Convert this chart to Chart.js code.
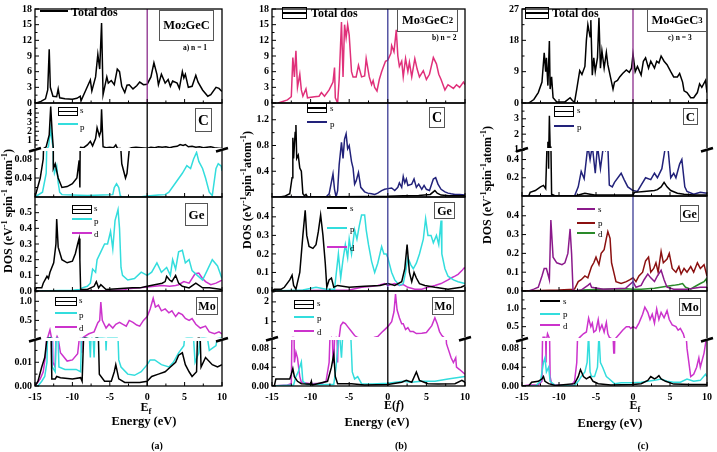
<!DOCTYPE html>
<html>
<head>
<meta charset="utf-8">
<script src="https://cdn.jsdelivr.net/npm/chart.js@4.4.1/dist/chart.umd.min.js"></script>
<style>
html, body { margin: 0; padding: 0; background: #fff; }
#wrap { position: relative; width: 717px; height: 452px; overflow: hidden; font-family: "Liberation Serif", "DejaVu Serif", serif; color: #000; }
canvas { position: absolute; top: 0; }
.t { position: absolute; white-space: nowrap; line-height: 1; font-weight: bold; }
.c { transform: translate(-50%, -50%); }
.v { transform: translate(-50%, -50%) rotate(-90deg); }
.lb { position: absolute; white-space: nowrap; line-height: 1; font-size: 9px; transform: translateY(-50%); }
.ln { position: absolute; height: 2px; margin-top: -1px; background: #000; }
.bx { position: absolute; border: 1.5px solid #000; box-sizing: border-box; }
.bx:after { content: ""; position: absolute; left: 0; right: 0; top: 50%; height: 1.5px; margin-top: -0.75px; background: #000; }
.fr { position: absolute; border: 1px solid #555; box-sizing: border-box; display: flex; align-items: center; justify-content: center; font-weight: bold; line-height: 1; }
sub, sup { font-size: 70%; line-height: 0; }
</style>
</head>
<body>
<div id="wrap">
<canvas id="ca" width="232" height="452" style="left:0"></canvas>
<canvas id="cb" width="239" height="452" style="left:236px"></canvas>
<canvas id="cc" width="241" height="452" style="left:476px"></canvas>

<!-- (a) -->
<div class="ln" style="left:40px;top:11px;width:28px"></div>
<div class="t" style="left:71px;top:6px;font-size:12px">Total dos</div>
<div class="fr" style="left:159px;top:10px;width:55px;height:31px;font-size:12.5px">Mo<sub>2</sub>GeC</div>
<div class="t" style="left:183px;top:44px;font-size:7.5px">a) n = 1</div>
<div class="fr" style="left:195px;top:108px;width:17px;height:24px;font-size:15px">C</div>
<div class="bx" style="left:58px;top:107px;width:20px;height:9px"></div><div class="lb" style="left:80px;top:110px">s</div>
<div class="ln" style="left:58px;top:124px;width:20px;background:#33dddd"></div><div class="lb" style="left:80px;top:127px">p</div>
<div class="fr" style="left:185px;top:203px;width:23px;height:23px;font-size:13px">Ge</div>
<div class="bx" style="left:72px;top:205px;width:20px;height:9px"></div><div class="lb" style="left:94px;top:208px">s</div>
<div class="ln" style="left:72px;top:219px;width:20px;background:#33dddd"></div><div class="lb" style="left:94px;top:221px">p</div>
<div class="ln" style="left:72px;top:233px;width:20px;background:#cc33cc"></div><div class="lb" style="left:94px;top:234px">d</div>
<div class="fr" style="left:196px;top:297px;width:22px;height:18px;font-size:12px">Mo</div>
<div class="bx" style="left:55px;top:297px;width:22px;height:9px"></div><div class="lb" style="left:79px;top:300px">s</div>
<div class="ln" style="left:55px;top:313px;width:22px;background:#33dddd"></div><div class="lb" style="left:79px;top:315px">p</div>
<div class="ln" style="left:55px;top:327px;width:22px;background:#cc33cc"></div><div class="lb" style="left:79px;top:328px">d</div>
<div class="t c" style="left:146px;top:407px;font-size:12px">E<sub>f</sub></div>
<div class="t c" style="left:144px;top:421px;font-size:12.5px">Energy (eV)</div>
<div class="t c" style="left:157px;top:446px;font-size:10px">(a)</div>
<div class="t v" style="left:8px;top:211px;font-size:12px">DOS (eV<sup>-1</sup> spin<sup>-1</sup> atom<sup>-1</sup>)</div>

<!-- (b) -->
<div class="bx" style="left:282px;top:7px;width:25px;height:12px"></div>
<div class="t" style="left:311px;top:7px;font-size:12px">Total dos</div>
<div class="fr" style="left:397px;top:8px;width:61px;height:24px;font-size:12.5px">Mo<sub>3</sub>GeC<sub>2</sub></div>
<div class="t" style="left:432px;top:34px;font-size:7.5px">b) n = 2</div>
<div class="fr" style="left:429px;top:107px;width:16px;height:21px;font-size:14px">C</div>
<div class="bx" style="left:307px;top:103px;width:20px;height:10px"></div><div class="lb" style="left:330px;top:108px">s</div>
<div class="ln" style="left:307px;top:122px;width:20px;background:#22227a"></div><div class="lb" style="left:330px;top:124px">p</div>
<div class="fr" style="left:434px;top:202px;width:21px;height:17px;font-size:12px">Ge</div>
<div class="ln" style="left:327px;top:208px;width:20px"></div><div class="lb" style="left:350px;top:208px">s</div>
<div class="ln" style="left:327px;top:228px;width:20px;background:#33dddd"></div><div class="lb" style="left:350px;top:229px">p</div>
<div class="ln" style="left:327px;top:247px;width:20px;background:#cc33cc"></div><div class="lb" style="left:350px;top:248px">d</div>
<div class="fr" style="left:432px;top:297px;width:22px;height:18px;font-size:12px">Mo</div>
<div class="bx" style="left:294px;top:300px;width:20px;height:9px"></div><div class="lb" style="left:317px;top:303px">s</div>
<div class="ln" style="left:294px;top:317px;width:20px;background:#33dddd"></div><div class="lb" style="left:317px;top:318px">p</div>
<div class="ln" style="left:294px;top:331px;width:20px;background:#cc33cc"></div><div class="lb" style="left:317px;top:332px">d</div>
<div class="t c" style="left:394px;top:405px;font-size:12px">E(<i>f</i>)</div>
<div class="t c" style="left:377px;top:422px;font-size:12.5px">Energy (eV)</div>
<div class="t c" style="left:401px;top:446px;font-size:10px">(b)</div>
<div class="t v" style="left:247px;top:190px;font-size:12px">DOS (eV<sup>-1</sup>spin<sup>-1</sup>atom<sup>-1</sup>)</div>

<!-- (c) -->
<div class="bx" style="left:525px;top:7px;width:24px;height:12px"></div>
<div class="t" style="left:552px;top:7px;font-size:12px">Total dos</div>
<div class="fr" style="left:647px;top:8px;width:60px;height:24px;font-size:12.5px">Mo<sub>4</sub>GeC<sub>3</sub></div>
<div class="t" style="left:668px;top:34px;font-size:7.5px">c) n = 3</div>
<div class="fr" style="left:683px;top:108px;width:15px;height:17px;font-size:13px">C</div>
<div class="bx" style="left:554px;top:106px;width:20px;height:11px"></div><div class="lb" style="left:577px;top:110px">s</div>
<div class="ln" style="left:554px;top:126px;width:20px;background:#22227a"></div><div class="lb" style="left:577px;top:127px">p</div>
<div class="fr" style="left:680px;top:205px;width:19px;height:17px;font-size:12px">Ge</div>
<div class="ln" style="left:577px;top:209px;width:18px;background:#8b1a8b"></div><div class="lb" style="left:598px;top:209px">s</div>
<div class="ln" style="left:577px;top:223px;width:18px;background:#8b1010"></div><div class="lb" style="left:598px;top:223px">p</div>
<div class="ln" style="left:577px;top:233px;width:18px;background:#2a8a2a"></div><div class="lb" style="left:598px;top:234px">d</div>
<div class="fr" style="left:679px;top:298px;width:22px;height:18px;font-size:12px">Mo</div>
<div class="ln" style="left:540px;top:301px;width:20px"></div><div class="lb" style="left:563px;top:301px">s</div>
<div class="ln" style="left:540px;top:314px;width:20px;background:#33dddd"></div><div class="lb" style="left:563px;top:314px">p</div>
<div class="ln" style="left:540px;top:325px;width:20px;background:#cc33cc"></div><div class="lb" style="left:563px;top:326px">d</div>
<div class="t c" style="left:635px;top:405px;font-size:12px">E<sub>f</sub></div>
<div class="t c" style="left:610px;top:423px;font-size:12.5px">Energy (eV)</div>
<div class="t c" style="left:643px;top:446px;font-size:10px">(c)</div>
<div class="t v" style="left:487px;top:185px;font-size:12px">DOS (eV<sup>-1</sup>spin<sup>-1</sup>atom<sup>-1</sup>)</div>
</div>

<script>
// energy axis
const E_TICKS = [-15, -10, -5, 0, 5, 10];
const E_LABELS = ['-15', '-10', '-5', '0', '5', '10'];

// ---- (a) Mo2GeC : [energy, DOS] ----
const aTot = [[-15,0],[-14.8,0],[-14.2,0.3],[-13.6,0.8],[-13.3,2.5],[-13.1,10.3],[-12.95,3],[-12.6,1.3],[-12.1,1.2],[-11.9,2.7],[-11.7,1],[-11,0.8],[-10,0.7],[-9.4,0.9],[-8.95,1.3],[-8.85,0.4],[-8.2,2.5],[-7.6,4.4],[-7.4,2.3],[-6.9,5],[-6.6,9.3],[-6.35,6.5],[-6.1,15.3],[-5.9,1.6],[-5.4,5],[-5.2,3.8],[-4.8,4.3],[-4.4,3.5],[-4,6.5],[-3.7,6],[-3.4,3.2],[-3,2],[-2.7,3.4],[-2.4,3.5],[-1.9,2.7],[-1.4,3.3],[-1,4],[-0.5,3.5],[0,3.6],[0.5,5],[0.9,7.7],[1.3,5.5],[1.5,3.5],[1.9,5.5],[2.4,3.8],[2.8,4.5],[3.1,3.2],[3.4,4.2],[4,3.8],[4.3,2.8],[4.7,6],[4.9,4.8],[5.1,5.5],[5.5,3],[6,3.2],[6.5,5.3],[6.8,4],[7.4,2.5],[8.1,1.3],[8.5,1.6],[9.2,3],[9.6,2.8],[10,2.2]];
const aCs = [[-15,0],[-14.3,0.04],[-13.9,0.08],[-13.5,0.3],[-13.1,1.6],[-12.9,4.7],[-12.7,1.8],[-12.55,0.06],[-12.3,0.07],[-11.9,0.04],[-11.4,0.02],[-10.7,0.022],[-10,0.028],[-9.4,0.04],[-9.1,0.077],[-9,0.02],[-8.9,0.25],[-8.5,0.2],[-8,0.5],[-7.6,0.9],[-7.3,0.4],[-6.9,1.2],[-6.7,2.4],[-6.4,1.5],[-6.2,2],[-6.1,4.4],[-5.9,0.3],[-5.5,0.2],[-5,0.25],[-4.5,0.2],[-4.2,0.5],[-4,0.15],[-3.6,0.12],[-3.4,0.07],[-2.9,0.04],[-2.7,0.05],[-2.4,0.1],[-2.1,0.2],[-1.5,0.25],[-0.8,0.2],[0,0.15],[0.5,0.25],[1,0.2],[1.5,0.3],[2,0.25],[2.5,0.3],[3,0.2],[3.5,0.3],[4,0.35],[4.4,0.55],[4.8,0.45],[5.1,0.55],[5.5,0.3],[6,0.35],[6.5,0.25],[7,0.3],[7.5,0.2],[8,0.25],[8.5,0.3],[9,0.2],[9.5,0.15],[10,0.1]];
const aCp = [[-15,0],[-14,0.01],[-13.5,0.05],[-13.2,0.3],[-12.9,2.3],[-12.7,0.8],[-12.55,0.07],[-12.4,0.05],[-12.1,0.065],[-11.9,0.03],[-11.7,0.01],[-11.4,0.005],[-10,0.004],[-8,0.003],[-6,0.004],[-4.6,0.005],[-4.4,0.02],[-4.1,0.028],[-3.8,0.02],[-3.6,0.003],[-3.4,0],[-1,0],[0,0.002],[1.5,0.004],[2.4,0.005],[2.9,0.01],[3.8,0.03],[4.7,0.05],[5.3,0.066],[5.8,0.06],[6.2,0.08],[6.6,0.094],[6.9,0.075],[7.4,0.06],[7.8,0.04],[8.3,0.01],[8.7,0.003],[9.2,0.06],[9.5,0.07],[9.9,0.065],[10,0.055]];
const aGes = [[-15,0],[-14.8,0.02],[-14.1,0.02],[-13.9,0.05],[-13.4,0.094],[-13.2,0.08],[-13,0.12],[-12.5,0.18],[-12.2,0.3],[-12.1,0.46],[-11.9,0.28],[-11.4,0.2],[-10.7,0.18],[-10,0.19],[-9.6,0.24],[-9.3,0.3],[-9.1,0.335],[-9,0.2],[-8.9,0.01],[-8,0.01],[-7.1,0.03],[-6.8,0.06],[-6.5,0.02],[-6.2,0.04],[-5.5,0.01],[-4,0.015],[-2,0.02],[-1,0.02],[0,0.03],[1,0.04],[2,0.05],[2.4,0.06],[2.6,0.094],[3,0.07],[3.3,0.06],[3.8,0.1],[4.2,0.05],[4.7,0.03],[5.6,0.02],[6.5,0.05],[7.4,0.02],[8.3,0.02],[10,0.01]];
const aGep = [[-15,0],[-10,0.005],[-9,0.01],[-8.7,0.02],[-8,0.03],[-7.6,0.05],[-7.3,0.14],[-6.9,0.12],[-6.7,0.2],[-6.2,0.25],[-5.7,0.3],[-5.3,0.3],[-4.9,0.38],[-4.6,0.27],[-4.3,0.45],[-3.9,0.52],[-3.7,0.4],[-3.5,0.15],[-3.3,0.1],[-2.6,0.07],[-1.7,0.08],[-0.8,0.12],[0,0.1],[0.6,0.12],[1.3,0.18],[1.9,0.12],[2.6,0.15],[3.1,0.1],[3.4,0.2],[3.8,0.14],[4.2,0.25],[4.7,0.26],[5.1,0.18],[5.6,0.2],[6,0.13],[6.7,0.1],[7.4,0.07],[8.1,0.14],[8.7,0.2],[9.4,0.16],[10,0.08]];
const aGed = [[-15,0],[-5,0.003],[-3,0.008],[-2.6,0.015],[-1,0.02],[0,0.025],[1,0.03],[2,0.035],[3,0.03],[3.8,0.035],[4.2,0.04],[4.9,0.06],[5.6,0.05],[6.4,0.11],[6.9,0.115],[7.4,0.08],[7.8,0.06],[8.5,0.04],[9.2,0.05],[10,0.07]];
const aMos = [[-15,0],[-14.6,0.002],[-14.1,0.008],[-13.7,0.012],[-13.4,0.02],[-13.2,0.03],[-12.9,0.03],[-12.75,0.003],[-12.3,0.003],[-12.1,0.004],[-11.6,0.0035],[-10,0.003],[-8.9,0.0035],[-8.7,0.002],[-8.4,0.03],[-8.2,0.03],[-7.9,0.02],[-7.5,0.02],[-7,0.02],[-6.8,0.03],[-6.6,0.03],[-6.4,0.005],[-5.7,0.002],[-4.8,0.002],[-4.4,0.006],[-4.2,0.009],[-3.8,0.003],[-3,0.0015],[-1,0.0015],[0,0.002],[0.6,0.004],[1.5,0.005],[2.4,0.006],[3.1,0.008],[3.8,0.01],[4.2,0.013],[4.7,0.014],[5.1,0.009],[5.6,0.006],[6,0.004],[6.6,0.006],[6.8,0.03],[7,0.03],[7.2,0.008],[7.8,0.012],[8.7,0.009],[9.4,0.008],[10,0.009]];
const aMop = [[-15,0],[-14.6,0],[-14.1,0.002],[-13.7,0.004],[-13.4,0.01],[-13.2,0.04],[-12.9,0.05],[-12.7,0.008],[-12.3,0.006],[-12.15,0.03],[-12,0.03],[-11.8,0.008],[-11,0.007],[-9.5,0.007],[-8.9,0.006],[-8.7,0.03],[-8.2,0.03],[-7.8,0.025],[-7.6,0.012],[-7.4,0.03],[-7.1,0.012],[-6.9,0.03],[-6,0.03],[-5.6,0.025],[-5.5,0.015],[-5.3,0.03],[-4,0.03],[-3.8,0.011],[-3.5,0.008],[-2.6,0.005],[-1.7,0.0045],[-0.8,0.006],[0,0.009],[0.4,0.011],[1,0.011],[1.9,0.009],[2.9,0.008],[3.5,0.01],[4.2,0.014],[4.9,0.017],[5.3,0.03],[6,0.03],[6.4,0.01],[6.9,0.014],[7.3,0.03],[7.6,0.03],[8.3,0.015],[9.2,0.017],[9.8,0.03],[10,0.03]];
const aMod = [[-15,0],[-14.3,0.003],[-13.9,0.006],[-13.5,0.015],[-13.3,0.05],[-13,0.25],[-12.8,0.05],[-12.6,0.01],[-12.3,0.008],[-12.15,0.025],[-12.05,0.08],[-11.9,0.02],[-11.6,0.014],[-10.7,0.0105],[-10,0.011],[-9.3,0.0136],[-8.9,0.025],[-8.75,0.014],[-8.5,0.06],[-7.8,0.15],[-7.1,0.2],[-6.6,0.44],[-6.35,0.5],[-6.2,0.98],[-6,0.5],[-5.5,0.3],[-5.1,0.4],[-4.6,0.3],[-4.2,0.4],[-3.7,0.45],[-3.3,0.4],[-2.8,0.35],[-2.4,0.5],[-1.9,0.45],[-1.4,0.38],[-1,0.35],[-0.5,0.5],[0,0.6],[0.4,0.8],[0.8,1.08],[1.1,0.85],[1.5,0.9],[1.9,0.75],[2.4,0.8],[2.9,0.7],[3.3,0.75],[3.8,0.6],[4.2,0.7],[4.7,0.65],[5.1,0.55],[5.6,0.5],[6,0.55],[6.5,0.4],[7.1,0.3],[7.8,0.35],[8.3,0.2],[9,0.15],[9.6,0.2],[10,0.15]];

// ---- (b) Mo3GeC2 ----
const bTot = [[-14.2,0],[-13.8,0.2],[-13,0.6],[-12.5,1.2],[-12.3,8.7],[-12.1,5],[-11.9,10],[-11.7,3],[-11.4,5.5],[-11.2,2.5],[-11,1.3],[-10.6,2.7],[-10.4,1],[-9.5,1.2],[-8.9,1.3],[-8.6,2],[-8.2,1.3],[-7.6,2.5],[-7.1,4],[-6.9,6.8],[-6.8,1],[-6.5,0],[-6.3,4.5],[-6,15.5],[-5.8,5],[-5.6,15],[-5.4,12.5],[-5.2,15],[-5,13],[-4.7,6],[-4.5,5],[-4.1,5],[-3.8,7.2],[-3.4,5],[-3,5.2],[-2.8,8.5],[-2.4,5],[-2.1,3.5],[-1.9,4.3],[-1.7,3],[-1.4,2.3],[-1.1,4.5],[-0.8,6],[-0.6,6.8],[-0.3,8],[0,8.2],[0.4,9.5],[0.5,11],[0.8,9.8],[1.1,14],[1.3,9],[1.5,7],[1.8,8],[2,5],[2.3,8.5],[2.6,6],[2.8,7.8],[3.1,5],[3.5,8.5],[3.8,6.5],[4.1,5],[4.6,6.2],[5,4.5],[5.4,5.5],[5.9,8.7],[6.3,7.5],[6.6,5.5],[6.9,4.5],[7.4,2.5],[7.8,3.5],[8.5,2.8],[8.9,3.5],[9.3,3],[9.8,4],[10,3.5]];
const bCs = [[-14,0],[-13.4,0.01],[-12.7,0.05],[-12.4,0.3],[-12.3,0.92],[-12.2,0.6],[-12,1],[-11.9,1.12],[-11.8,0.6],[-11.6,0.65],[-11.4,0.45],[-11.2,0.4],[-11,0.05],[-10.8,0.02],[-10.6,0.04],[-10.4,0],[-7,0.005],[-2,0.008],[0,0.01],[2,0.02],[4,0.025],[5.5,0.04],[6.1,0.1],[6.4,0.06],[6.9,0.03],[8,0.02],[10,0.02]];
const bCp = [[-15,0],[-8,0],[-7.6,0.05],[-7.1,0.36],[-6.9,0.12],[-6.7,0],[-6.5,0.1],[-6.3,0.5],[-6,0.85],[-5.8,0.6],[-5.6,0.9],[-5.4,0.98],[-5.2,0.75],[-5,0.8],[-4.7,0.55],[-4.5,0.45],[-4.3,0.2],[-4.1,0.25],[-3.8,0.38],[-3.5,0.15],[-3,0.08],[-2.6,0.06],[-2.1,0.05],[-1.7,0.04],[-1.3,0.06],[-0.8,0.1],[-0.4,0.12],[0,0.13],[0.5,0.14],[0.9,0.1],[1.3,0.15],[1.5,0.22],[1.8,0.15],[2,0.32],[2.2,0.22],[2.4,0.28],[2.6,0.18],[3.1,0.2],[3.4,0.28],[3.7,0.15],[4,0.2],[4.4,0.12],[4.7,0.18],[5,0.12],[5.4,0.1],[5.9,0.28],[6.2,0.3],[6.5,0.2],[6.9,0.12],[7.4,0.08],[7.8,0.06],[8.2,0.05],[8.7,0.04],[9.3,0.04],[10,0.03]];
const bGes = [[-15,0],[-14.7,0.01],[-13.8,0.01],[-13.4,0.02],[-12.7,0.06],[-12.4,0.085],[-12.2,0.03],[-11.9,0.01],[-11.4,0.1],[-11,0.3],[-10.7,0.435],[-10.5,0.3],[-10.2,0.24],[-9.7,0.23],[-9.3,0.25],[-9,0.32],[-8.7,0.41],[-8.4,0.3],[-8.1,0.15],[-7.9,0.02],[-7.6,0.06],[-7.3,0.07],[-7,0.02],[-6.5,0.03],[-5,0.02],[-3,0.025],[-1,0.03],[0,0.04],[0.9,0.03],[1.8,0.05],[2.2,0.12],[2.5,0.25],[2.8,0.1],[3.1,0.05],[3.4,0.1],[3.7,0.07],[4.1,0.04],[4.8,0.03],[6.1,0.02],[7.8,0.01],[9.5,0.02],[10,0.03]];
const bGep = [[-15,0],[-11,0.005],[-9.3,0.02],[-8,0.01],[-6.9,0.01],[-6.4,0.2],[-6.1,0.07],[-5.8,0.17],[-5.5,0.25],[-5.2,0.18],[-5,0.28],[-4.7,0.2],[-4.3,0.33],[-4,0.28],[-3.7,0.35],[-3.4,0.41],[-3,0.41],[-2.8,0.33],[-2.5,0.25],[-2.1,0.16],[-1.7,0.1],[-1.3,0.15],[-0.8,0.24],[-0.5,0.2],[-0.2,0.2],[0,0.18],[0.5,0.1],[0.9,0.06],[1.5,0.03],[2,0.04],[2.3,0.1],[2.6,0.18],[3,0.14],[3.3,0.12],[3.7,0.15],[4.1,0.2],[4.6,0.28],[4.9,0.39],[5.2,0.3],[5.6,0.3],[5.9,0.26],[6.3,0.3],[6.6,0.25],[6.9,0.38],[7,0.2],[7.4,0.12],[7.8,0.08],[8.5,0.06],[9.1,0.05],[10,0.04]];
const bGed = [[-15,0],[-5,0.005],[-3.4,0.02],[-2,0.025],[-1.3,0.03],[-0.4,0.04],[0,0.03],[0.9,0.04],[1.5,0.03],[2,0.035],[2.6,0.02],[3.5,0.01],[4.4,0.01],[5.2,0.02],[6.1,0.03],[6.9,0.04],[7.8,0.06],[8.2,0.07],[8.7,0.08],[9.1,0.09],[9.6,0.11],[9.9,0.125],[10,0.12]];
const bMos = [[-15,0],[-14.7,0],[-14.5,0.015],[-13.6,0.015],[-12.7,0.015],[-12.5,0.025],[-12.3,0.037],[-12.1,0.02],[-11.7,0.01],[-11.2,0.005],[-10,0.004],[-9.9,0.01],[-9.8,0.002],[-7.8,0.01],[-7.3,0.04],[-7,0.067],[-6.8,0.02],[-6.5,0.005],[-4.7,0.005],[-3,0.002],[0,0.003],[1.8,0.008],[2.4,0.012],[3.1,0.008],[3.7,0.03],[4.1,0.012],[5.2,0.005],[6.5,0.004],[8.7,0.005],[9.6,0.012],[10,0.008]];
const bMop = [[-15,0],[-12.2,0.002],[-11.9,0.02],[-11.6,0.03],[-11.2,0.051],[-11,0.01],[-10.5,0.003],[-7,0.003],[-6.7,0.04],[-6.5,0.08],[-6.3,0.12],[-6,0.06],[-5.8,0.12],[-5.6,0.11],[-5.2,0.12],[-4.8,0.11],[-4.6,0.03],[-4.3,0.015],[-3.9,0.02],[-3.4,0.005],[-2,0.004],[0,0.006],[1,0.008],[2,0.01],[3,0.008],[4.4,0.01],[6.1,0.01],[7.8,0.015],[10,0.02]];
const bMod = [[-15,0],[-13,0.002],[-12.5,0.005],[-12.35,0.2],[-12.2,0.2],[-12.1,0.05],[-11.9,0.072],[-11.7,0.06],[-11.4,0.02],[-11.2,0.008],[-10,0.005],[-8.5,0.006],[-8,0.01],[-7.6,0.05],[-7.3,0.2],[-7.1,0.05],[-7,0.05],[-6.7,0.2],[-6.5,0.05],[-6.3,0.2],[-6.1,0.8],[-5.8,0.97],[-5.5,0.9],[-5.2,0.75],[-4.7,0.5],[-4.3,0.3],[-3.9,0.2],[-3.4,0.16],[-2.5,0.17],[-1.8,0.2],[-1.3,0.25],[-0.8,0.45],[-0.4,0.6],[0,0.75],[0.5,1],[0.8,1.5],[1,2.4],[1.2,1.6],[1.5,1.2],[1.8,0.9],[2,0.9],[2.3,0.6],[2.6,0.7],[2.9,0.5],[3.3,0.5],[3.7,0.4],[4.4,0.42],[5,0.45],[5.7,0.8],[6.1,1.2],[6.4,0.9],[6.7,0.5],[7,0.3],[7.4,0.16],[7.6,0.09],[7.8,0.08],[8.2,0.06],[8.5,0.05],[8.8,0.06],[8.9,0.04],[9.3,0.035],[10,0.025]];

// ---- (c) Mo4GeC3 ----
const cTot = [[-14.1,0],[-13.4,1],[-12.8,3],[-12.3,6],[-12,14.4],[-11.8,9],[-11.7,13],[-11.5,5],[-11.3,17.8],[-11.2,4],[-11,7.5],[-10.8,1.5],[-10.3,0.3],[-9.2,0.3],[-8.5,1.5],[-8.2,0.7],[-7.9,0.2],[-7.6,4],[-7.2,9.3],[-6.9,8.2],[-6.5,10.5],[-6.3,18],[-6.1,22.5],[-5.8,19],[-5.7,23.8],[-5.5,8],[-5.3,13],[-5.1,9],[-4.8,13],[-4.6,24.5],[-4.4,10],[-4.2,15],[-3.9,10],[-3.6,14.5],[-3.4,11],[-3,7],[-2.7,4],[-2.5,6],[-2.1,6.5],[-1.8,7.5],[-1.4,8.5],[-0.9,9.5],[-0.5,8.8],[-0.2,10],[0,14],[0.3,9],[0.6,10.5],[1.1,8],[1.4,12],[1.7,13],[2.1,10],[2.4,12],[2.9,10],[3.2,12],[3.5,11.5],[3.8,13.5],[4.2,12],[4.6,11],[5.1,9],[5.5,7.5],[6,7.5],[6.3,8.5],[6.7,6],[6.9,3.5],[7.3,3],[7.8,1.5],[8.2,1.5],[8.7,3],[9,5.5],[9.3,4.5],[9.8,6.5],[10,3]];
const cCs = [[-14.1,0],[-13.9,0.04],[-13.2,0.06],[-12.5,0.1],[-12.1,0.116],[-11.8,0.08],[-11.6,0.6],[-11.5,1.5],[-11.4,0.3],[-11.3,3.2],[-11.2,1.2],[-11.1,0.6],[-11,0.02],[-10.5,0],[-7.9,0],[-7,0.02],[-6.5,0.03],[-5.8,0.02],[-5.2,0.01],[-3,0.01],[0,0.01],[0.2,0.04],[1.5,0.05],[2.9,0.06],[3.3,0.07],[3.8,0.1],[4.2,0.15],[4.6,0.1],[5.1,0.06],[6,0.03],[6.9,0.02],[8.2,0.01],[10,0.01]];
const cCp = [[-15,0],[-7.9,0],[-7.4,0.1],[-7,0.27],[-6.6,0.19],[-6.1,0.55],[-5.8,0.4],[-5.5,0.55],[-5.1,0.25],[-4.8,0.55],[-4.4,0.3],[-4,0.55],[-3.7,0.5],[-3.4,0.55],[-3.2,0.12],[-2.8,0.1],[-2.5,0.15],[-1.6,0.25],[-1.2,0.18],[-0.7,0.1],[0,0.06],[0.6,0.05],[1.1,0.12],[1.7,0.2],[2.4,0.18],[2.9,0.25],[3.3,0.2],[3.9,0.3],[4.4,0.55],[4.7,0.55],[5.1,0.2],[5.5,0.25],[5.8,0.2],[6.3,0.35],[6.6,0.4],[7,0.1],[7.3,0.05],[8.2,0.02],[9.1,0.04],[10,0.03]];
const cGes = [[-14.1,0],[-13.4,0.01],[-12.8,0.02],[-12.3,0.08],[-12,0.12],[-11.7,0.12],[-11.3,0.06],[-11.1,0.377],[-10.8,0.18],[-10.3,0.15],[-9.6,0.14],[-9.2,0.15],[-8.8,0.2],[-8.5,0.33],[-8.3,0.2],[-8.1,0],[-7,0.005],[-6.1,0.03],[-5.8,0.04],[-5.6,0.02],[-4,0.01],[-1,0.015],[0,0.05],[0.4,0.02],[1.1,0.03],[1.5,0.06],[2,0.09],[2.4,0.07],[2.9,0.05],[3.3,0.08],[3.8,0.11],[4.2,0.06],[4.6,0.02],[5.5,0.01],[7.3,0.01],[9.1,0.02],[10,0.02]];
const cGep = [[-15,0],[-10,0.005],[-7.9,0.01],[-7.4,0.05],[-7,0.06],[-6.5,0.08],[-6.1,0.07],[-5.6,0.13],[-5.3,0.15],[-5,0.18],[-4.6,0.14],[-4.3,0.2],[-3.9,0.22],[-3.6,0.28],[-3.4,0.316],[-3.1,0.28],[-2.9,0.15],[-2.6,0.1],[-2.3,0.05],[-1.6,0.04],[-0.9,0.05],[-0.4,0.06],[0,0.07],[0.4,0.05],[0.8,0.08],[1.3,0.1],[1.7,0.16],[2.1,0.18],[2.4,0.1],[2.8,0.12],[3.1,0.15],[3.4,0.1],[3.8,0.21],[4.1,0.15],[4.6,0.17],[4.9,0.2],[5.3,0.12],[5.8,0.1],[6.2,0.13],[6.5,0.09],[6.9,0.12],[7.3,0.1],[7.8,0.13],[8.2,0.1],[8.7,0.15],[9.1,0.12],[9.6,0.14],[10,0.08]];
const cGed = [[-15,0],[-7.5,0.002],[-7,0.005],[-4,0.01],[-1,0.012],[0,0.01],[1.1,0.01],[2.9,0.015],[4.6,0.025],[5.5,0.03],[6.2,0.035],[6.7,0.04],[7.1,0.02],[7.8,0.01],[8.2,0.02],[9.1,0.04],[9.6,0.05],[9.9,0.065],[10,0.04]];
const cMos = [[-15,0],[-14.1,0],[-13.7,0.008],[-12.8,0.01],[-12.3,0.015],[-12.1,0.02],[-11.9,0.01],[-11.4,0.005],[-10.5,0.001],[-7.9,0.005],[-7.4,0.02],[-7.1,0.035],[-6.7,0.02],[-6.3,0.015],[-5.8,0.02],[-5.4,0.01],[-4.7,0.005],[-3,0.002],[0,0.003],[1.1,0.005],[2,0.012],[2.4,0.02],[2.9,0.015],[3.2,0.018],[3.5,0.022],[3.8,0.015],[4.4,0.01],[5.5,0.004],[7.8,0.003],[10,0.003]];
const cMop = [[-15,0],[-13.2,0],[-12.5,0.01],[-12.1,0.05],[-11.9,0.06],[-11.7,0.03],[-11.4,0.04],[-11.2,0.01],[-10.5,0.001],[-7.9,0.001],[-7.4,0.01],[-7,0.02],[-6.5,0.03],[-6.2,0.05],[-6,0.11],[-5.8,0.03],[-5.6,0.02],[-5.2,0.02],[-4.8,0.04],[-4.6,0.11],[-4.4,0.05],[-4.1,0.04],[-3.6,0.02],[-3.2,0.015],[-2.5,0.005],[-1.6,0.007],[0,0.007],[1.1,0.008],[2,0.01],[2.9,0.012],[3.8,0.015],[4.6,0.01],[5.5,0.008],[6.4,0.008],[7.3,0.015],[8.2,0.01],[9.1,0.012],[9.8,0.025],[10,0.02]];
const cMod = [[-15,0],[-14.1,0.002],[-12.8,0.002],[-12.3,0.01],[-12.15,0.2],[-11.9,0.2],[-11.75,0.05],[-11.55,0.3],[-11.35,0.2],[-11.2,0.02],[-11,0.005],[-10.5,0.002],[-8.3,0.002],[-7.9,0.01],[-7.6,0.05],[-7.4,0.15],[-7.2,0.2],[-6.7,0.3],[-6.3,0.35],[-6,0.74],[-5.7,0.5],[-5.5,0.6],[-5.3,0.35],[-5,0.4],[-4.7,0.7],[-4.5,0.4],[-4.2,0.55],[-3.9,0.35],[-3.6,0.62],[-3.4,0.3],[-3.2,0.2],[-2.8,0.15],[-2.6,0.07],[-2.5,0.07],[-2.4,0.16],[-1.8,0.3],[-1.4,0.4],[-0.9,0.5],[-0.5,0.5],[-0.3,0.45],[0,0.5],[0.4,0.45],[0.8,0.6],[1.3,0.85],[1.6,1.05],[2,0.9],[2.3,0.7],[2.6,0.85],[2.9,0.6],[3.2,1],[3.5,0.7],[3.8,0.9],[4.2,0.75],[4.6,0.95],[4.9,0.7],[5.3,0.55],[5.8,0.5],[6.1,0.4],[6.4,0.45],[6.8,0.3],[7,0.15],[7.3,0.08],[7.8,0.02],[8.2,0.025],[8.6,0.04],[8.9,0.06],[9.1,0.04],[9.6,0.07],[9.9,0.1],[10,0.1]];

// ---- y tick values / labels ----
const totT = [0, 3, 6, 9, 12, 15, 18], totL = ['0', '3', '6', '9', '12', '15', '18'];
const aC1T = [1, 2, 3, 4], aC1L = ['1', '2', '3', '4'];
const aC2T = [0.04, 0.08], aC2L = ['0.04', '0.08'];
const aGeT = [0, 0.1, 0.2, 0.3, 0.4, 0.5], aGeL = ['0.0', '0.1', '0.2', '0.3', '0.4', '0.5'];
const aMo1T = [0.5, 1.0], aMo1L = ['0.5', '1.0'];
const aMo2T = [0, 0.01], aMo2L = ['0.00', '0.01'];
const bCT = [0.4, 0.8, 1.2], bCL = ['0.4', '0.8', '1.2'];
const geT = [0, 0.1, 0.2, 0.3, 0.4], geL = ['0.0', '0.1', '0.2', '0.3', '0.4'];
const bMo1T = [1, 2], bMo1L = ['1', '2'];
const mo2T = [0, 0.04, 0.08], mo2L = ['0.00', '0.04', '0.08'];
const cTotT = [0, 9, 18, 27], cTotL = ['0', '9', '18', '27'];
const cC1T = [1, 2, 3], cC1L = ['1', '2', '3'];
const cC2T = [0.2, 0.4], cC2L = ['0.2', '0.4'];
const cMo1T = [0.5, 1.0], cMo1L = ['0.5', '1.0'];

const BLACK = '#000', CYAN = '#33dddd', MAG = '#cc33cc', NAVY = '#22227a', PINK = '#e0307a';
const PURPLE = '#8b1a8b', DRED = '#8b1010', GREEN = '#2a8a2a', FPURP = '#8b2c8b', FNAVY = '#3b3b94';
const FONT = { family: "'Liberation Serif','DejaVu Serif',serif", size: 10, weight: 'bold' };

const clipPlugin = {
  id: 'panelClip',
  beforeDatasetDraw(chart, args) {
    const s = chart.scales[args.meta.yAxisID];
    const g = chart.$gaps[args.meta.yAxisID] || [0, 0];
    const a = chart.chartArea;
    chart.ctx.save();
    chart.ctx.beginPath();
    chart.ctx.rect(a.left, s.top + g[0], a.right - a.left, s.bottom - s.top - g[0] - g[1]);
    chart.ctx.clip();
  },
  afterDatasetDraw(chart) {
    chart.ctx.restore();
  }
};

function makeDecor(axes, panels) {
  return {
    id: 'decor',
    afterDraw(chart) {
      const ctx = chart.ctx, a = chart.chartArea, sx = chart.scales.x;
      const seg = (x1, y1, x2, y2) => { ctx.beginPath(); ctx.moveTo(x1, y1); ctx.lineTo(x2, y2); ctx.stroke(); };
      const span = p => [chart.scales[p.axes[0]].top, chart.scales[p.axes[p.axes.length - 1]].bottom];
      ctx.save();
      const x0 = sx.getPixelForValue(0);
      panels.forEach(p => {
        const [top, bot] = span(p);
        ctx.strokeStyle = p.fermi; ctx.lineWidth = 1.3;
        seg(x0, top, x0, bot);
        ctx.strokeStyle = '#000'; ctx.lineWidth = 1;
        for (let e = -15; e <= 10; e += 2.5) {
          const x = sx.getPixelForValue(e);
          seg(x, bot, x, bot - (e % 5 === 0 ? 4 : 2.5));
        }
      });
      ctx.strokeStyle = '#000'; ctx.lineWidth = 1;
      axes.forEach(ax => {
        const s = chart.scales[ax.id];
        const marks = ax.ticks.map(v => [v, 4]);
        if (ax.ticks.length > 1) {
          const step = ax.ticks[1] - ax.ticks[0];
          for (let v = ax.ticks[0] - step / 2; v <= s.max; v += step) if (v >= s.min) marks.push([v, 2.5]);
        }
        marks.forEach(([v, len]) => {
          const y = s.getPixelForValue(v);
          if (y >= s.top - 0.5 && y <= s.bottom + 0.5) seg(a.left, y, a.left + len, y);
        });
      });
      ctx.lineWidth = 1.3;
      panels.forEach(p => {
        const [top, bot] = span(p);
        ctx.strokeRect(a.left, top, a.right - a.left, bot - top);
      });
      panels.forEach(p => {
        if (p.axes.length < 2) return;
        const y = chart.scales[p.axes[1]].top;
        [a.left, a.right].forEach(x => {
          ctx.fillStyle = '#fff';
          ctx.fillRect(x - 1, y - 1.5, 2, 3);
          ctx.lineWidth = 2.6;
          seg(x - 6, y + 2, x + 6, y - 1.5);
        });
      });
      ctx.restore();
    }
  };
}

function buildColumn(canvasId, yW, padR, axes, panels, series) {
  const scales = {
    x: {
      type: 'linear', position: 'bottom', min: -15, max: 10, bounds: 'data',
      grid: { display: false, drawTicks: false }, border: { display: false },
      ticks: { autoSkip: false, maxRotation: 0, padding: 5, color: '#000', font: FONT, callback: (v, i) => E_LABELS[i] },
      afterBuildTicks: s => { s.ticks = E_TICKS.map(v => ({ value: v })); },
      afterFit: s => { s.height = 66; }
    }
  };
  const gaps = {};
  axes.slice().reverse().forEach(ax => {
    gaps[ax.id] = ax.gap || [0, 0];
    scales[ax.id] = {
      type: 'linear', position: 'left', stack: canvasId, stackWeight: ax.h,
      min: ax.min, max: ax.max, bounds: 'data',
      grid: { display: false, drawTicks: false }, border: { display: false },
      ticks: { autoSkip: false, padding: 3, color: '#000', font: FONT, callback: (v, i) => ax.labels[i] },
      afterBuildTicks: s => { s.ticks = ax.ticks.map(v => ({ value: v })); },
      afterFit: s => { s.width = yW; }
    };
  });
  const datasets = [];
  series.forEach(([data, color, ids]) => ids.forEach(id => datasets.push({
    data: data.map(p => ({ x: p[0], y: p[1] })),
    xAxisID: 'x', yAxisID: id, borderColor: color, borderWidth: 1.5,
    pointRadius: 0, tension: 0, fill: false
  })));
  const chart = new Chart(document.getElementById(canvasId), {
    type: 'line',
    data: { datasets },
    options: {
      responsive: false, animation: false, devicePixelRatio: 1,
      layout: { padding: { left: 0, right: padR, top: 5, bottom: 0 } },
      plugins: { legend: { display: false }, tooltip: { enabled: false } },
      scales
    },
    plugins: [{ id: 'gaps', beforeInit(c) { c.$gaps = gaps; } }, clipPlugin, makeDecor(axes, panels)]
  });
  return chart;
}

// (a)
buildColumn('ca', 35, 10,
  [
    { id: 'aT', h: 95, min: 0, max: 18, ticks: totT, labels: totL },
    { id: 'aC1', h: 47, min: 0, max: 5.1, ticks: aC1T, labels: aC1L, gap: [0, 1.5] },
    { id: 'aC2', h: 48, min: 0, max: 0.1, ticks: aC2T, labels: aC2L, gap: [1.5, 0] },
    { id: 'aGe', h: 95, min: 0, max: 0.6, ticks: aGeT, labels: aGeL },
    { id: 'aMo1', h: 49, min: 0, max: 1.27, ticks: aMo1T, labels: aMo1L, gap: [0, 1.5] },
    { id: 'aMo2', h: 47, min: 0, max: 0.0196, ticks: aMo2T, labels: aMo2L, gap: [1.5, 0] }
  ],
  [
    { axes: ['aT'], fermi: FPURP },
    { axes: ['aC1', 'aC2'], fermi: BLACK },
    { axes: ['aGe'], fermi: BLACK },
    { axes: ['aMo1', 'aMo2'], fermi: BLACK }
  ],
  [
    [aTot, BLACK, ['aT']],
    [aCs, BLACK, ['aC1', 'aC2']], [aCp, CYAN, ['aC1', 'aC2']],
    [aGes, BLACK, ['aGe']], [aGep, CYAN, ['aGe']], [aGed, MAG, ['aGe']],
    [aMos, BLACK, ['aMo1', 'aMo2']], [aMop, CYAN, ['aMo1', 'aMo2']], [aMod, MAG, ['aMo1', 'aMo2']]
  ]);

// (b)
buildColumn('cb', 36, 10,
  [
    { id: 'bT', h: 95, min: 0, max: 18, ticks: totT, labels: totL },
    { id: 'bC', h: 95, min: 0, max: 1.46, ticks: bCT, labels: bCL },
    { id: 'bGe', h: 95, min: 0, max: 0.507, ticks: geT, labels: geL },
    { id: 'bMo1', h: 48, min: 0.15, max: 2.55, ticks: bMo1T, labels: bMo1L, gap: [0, 1.5] },
    { id: 'bMo2', h: 48, min: 0, max: 0.101, ticks: mo2T, labels: mo2L, gap: [1.5, 0] }
  ],
  [
    { axes: ['bT'], fermi: FNAVY },
    { axes: ['bC'], fermi: FNAVY },
    { axes: ['bGe'], fermi: FNAVY },
    { axes: ['bMo1', 'bMo2'], fermi: BLACK }
  ],
  [
    [bTot, PINK, ['bT']],
    [bCs, BLACK, ['bC']], [bCp, NAVY, ['bC']],
    [bGes, BLACK, ['bGe']], [bGep, CYAN, ['bGe']], [bGed, MAG, ['bGe']],
    [bMos, BLACK, ['bMo1', 'bMo2']], [bMop, CYAN, ['bMo1', 'bMo2']], [bMod, MAG, ['bMo1', 'bMo2']]
  ]);

// (c)
buildColumn('cc', 46, 9,
  [
    { id: 'cT', h: 95, min: 0, max: 27, ticks: cTotT, labels: cTotL },
    { id: 'cC1', h: 47, min: 1, max: 4.03, ticks: cC1T, labels: cC1L, gap: [0, 1.5] },
    { id: 'cC2', h: 47, min: 0, max: 0.51, ticks: cC2T, labels: cC2L, gap: [1.5, 0] },
    { id: 'cGe', h: 96, min: 0, max: 0.505, ticks: geT, labels: geL },
    { id: 'cMo1', h: 49, min: 0.14, max: 1.5, ticks: cMo1T, labels: cMo1L, gap: [0, 1.5] },
    { id: 'cMo2', h: 47, min: 0, max: 0.099, ticks: mo2T, labels: mo2L, gap: [1.5, 0] }
  ],
  [
    { axes: ['cT'], fermi: FPURP },
    { axes: ['cC1', 'cC2'], fermi: BLACK },
    { axes: ['cGe'], fermi: FNAVY },
    { axes: ['cMo1', 'cMo2'], fermi: BLACK }
  ],
  [
    [cTot, BLACK, ['cT']],
    [cCs, BLACK, ['cC1', 'cC2']], [cCp, NAVY, ['cC1', 'cC2']],
    [cGes, PURPLE, ['cGe']], [cGep, DRED, ['cGe']], [cGed, GREEN, ['cGe']],
    [cMos, BLACK, ['cMo1', 'cMo2']], [cMop, CYAN, ['cMo1', 'cMo2']], [cMod, MAG, ['cMo1', 'cMo2']]
  ]);
</script>
</body>
</html>
